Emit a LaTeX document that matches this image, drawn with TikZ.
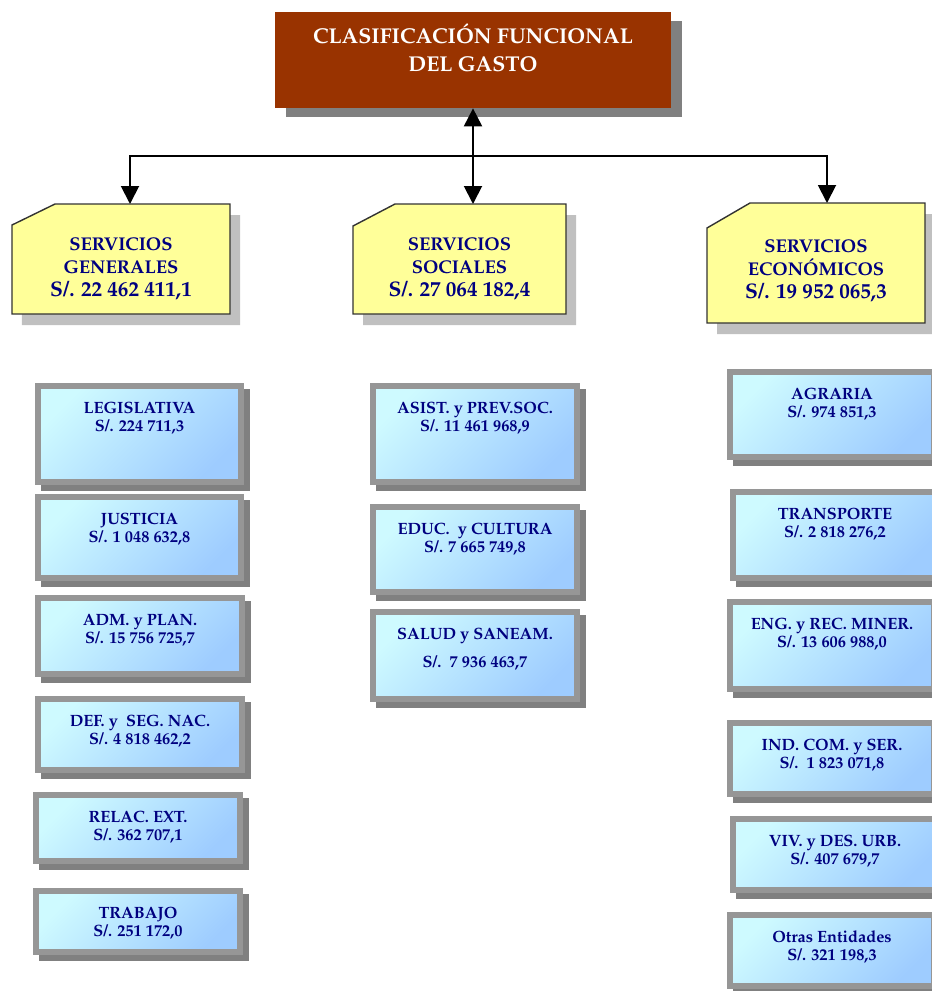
\documentclass[tikz,border=0pt]{standalone}
\usepackage[T1]{fontenc}
\usepackage{mathpazo}
\usetikzlibrary{positioning,shadows,arrows.meta}
\definecolor{ladrillo}{RGB}{153,51,0}
\definecolor{amarillo}{RGB}{255,255,153}
\definecolor{azultexto}{RGB}{0,0,128}
\definecolor{celeste}{RGB}{206,250,255}
\definecolor{azulclaro}{RGB}{158,204,255}
\definecolor{marco}{RGB}{150,150,150}
\definecolor{sombra}{RGB}{128,128,128}
\definecolor{sombraclara}{RGB}{192,192,192}
\tikzset{
  titulo/.style={fill=ladrillo, minimum width=7.92cm, minimum height=1.92cm, inner sep=0pt,
    drop shadow={shadow xshift=2.2mm, shadow yshift=-1.8mm, fill=sombra, opacity=1}},
  titulotxt/.style={text=white, font=\fontsize{12.2}{15.5}\selectfont\bfseries, align=center, inner sep=0pt},
  sector/.style={inner sep=0pt, outer sep=0pt},
  sectorborde/.style={draw=black!80, line width=.8pt, fill=amarillo,
    drop shadow={shadow xshift=2mm, shadow yshift=-2.2mm, fill=sombraclara, opacity=1}},
  sectortxt/.style={text=azultexto, font=\fontsize{10.5}{13}\selectfont\bfseries, align=center, inner sep=0pt},
  rubro/.style={draw=marco, line width=1.2mm, top color=celeste, bottom color=azulclaro, shading angle=45,
    minimum width=4.06cm, inner sep=0pt,
    drop shadow={shadow xshift=1.2mm, shadow yshift=-1.2mm, fill=sombra, draw=sombra, opacity=1}},
  rubrotxt/.style={text=azultexto, font=\fontsize{9.3}{10.2}\selectfont\bfseries, align=center, inner sep=0pt},
  conector/.style={line width=1.1pt},
}
\begin{document}
\begin{tikzpicture}[x=0.2mm, y=-0.2mm, >={Triangle[length=3.6mm, width=3.6mm]}]
\useasboundingbox (0,0) rectangle (932,991);
% encabezado
\node[titulo] (gasto) at (473,60) {};
\node[titulotxt, below=2.4mm of gasto.north] (gasto-t) {CLASIFICACIÓN FUNCIONAL\\DEL GASTO};
% sectores
\node[sector, minimum width=4.36cm, minimum height=2.2cm] (generales) at (121,259) {};
\draw[sectorborde] ([yshift=-4.2mm]generales.north west) -- ([xshift=8.6mm]generales.north west)
  -- (generales.north east) -- (generales.south east) -- (generales.south west) -- cycle;
\node[sectortxt, below=6.7mm of generales.north] (generales-t) {SERVICIOS\\GENERALES\\{\large S/. 22 462 411,1}};
\node[sector, minimum width=4.26cm, minimum height=2.2cm] (sociales) at (459.5,259) {};
\draw[sectorborde] ([yshift=-4.4mm]sociales.north west) -- ([xshift=8.4mm]sociales.north west)
  -- (sociales.north east) -- (sociales.south east) -- (sociales.south west) -- cycle;
\node[sectortxt, below=6.7mm of sociales.north] (sociales-t) {SERVICIOS\\SOCIALES\\{\large S/. 27 064 182,4}};
\node[sector, minimum width=4.36cm, minimum height=2.4cm] (economicos) at (816,263) {};
\draw[sectorborde] ([yshift=-5mm]economicos.north west) -- ([xshift=8.6mm]economicos.north west)
  -- (economicos.north east) -- (economicos.south east) -- (economicos.south west) -- cycle;
\node[sectortxt, below=7.3mm of economicos.north] (economicos-t) {SERVICIOS\\ECONÓMICOS\\{\large S/. 19 952 065,3}};
\coordinate (cruce) at (473,156);
\draw[conector,<->] (gasto.south) -- (gasto.south |- sociales.north);
\draw[conector,->] (cruce) -| ([xshift=1.8mm]generales.north);
\draw[conector,->] (cruce) -| ([xshift=2.2mm]economicos.north);
% servicios generales
\node[rubro, minimum height=1.92cm] (legislativa) at (139.5,434) {};
\node[rubrotxt, below=3.7mm of legislativa.north] (legislativa-t) {LEGISLATIVA\\S/. 224 711,3};
\node[rubro, minimum height=1.62cm] (justicia) at (139.5,537.5) {};
\node[rubrotxt, below=3.7mm of justicia.north] (justicia-t) {JUSTICIA\\S/. 1 048 632,8};
\node[rubro, minimum height=1.52cm] (administracion) at (140,636) {};
\node[rubrotxt, below=3.7mm of administracion.north] (administracion-t) {ADM. y PLAN.\\S/. 15 756 725,7};
\node[rubro, minimum height=1.42cm] (defensa) at (140,734.5) {};
\node[rubrotxt, below=3.7mm of defensa.north] (defensa-t) {DEF. y\ \ SEG. NAC.\\S/. 4 818 462,2};
\node[rubro, minimum height=1.32cm] (relaciones) at (138,828) {};
\node[rubrotxt, below=3.7mm of relaciones.north] (relaciones-t) {RELAC. EXT.\\S/. 362 707,1};
\node[rubro, minimum height=1.22cm] (trabajo) at (138,921.5) {};
\node[rubrotxt, below=3.7mm of trabajo.north] (trabajo-t) {TRABAJO\\S/. 251 172,0};
% servicios sociales
\node[rubro, minimum width=4.08cm, minimum height=1.92cm] (asistencia) at (475,434) {};
\node[rubrotxt, below=3.7mm of asistencia.north] (asistencia-t) {ASIST. y PREV.SOC.\\S/. 11 461 968,9};
\node[rubro, minimum width=4.08cm, minimum height=1.7cm] (educacion) at (475,549.5) {};
\node[rubrotxt, below=3.7mm of educacion.north] (educacion-t) {EDUC.\ \ y CULTURA\\S/. 7 665 749,8};
\node[rubro, minimum width=4.08cm, minimum height=1.74cm] (salud) at (475,655.5) {};
\node[rubrotxt, below=3.7mm of salud.north] (salud-t) {SALUD y SANEAM.\\[2mm]S/.\ \ 7 936 463,7};
% servicios economicos
\node[rubro, minimum width=4.08cm, minimum height=1.7cm] (agraria) at (832,414.5) {};
\node[rubrotxt, below=3.7mm of agraria.north] (agraria-t) {AGRARIA\\S/. 974 851,3};
\node[rubro, minimum width=4.08cm, minimum height=1.72cm] (transporte) at (835,535) {};
\node[rubrotxt, below=3.7mm of transporte.north] (transporte-t) {TRANSPORTE\\S/. 2 818 276,2};
\node[rubro, minimum width=4.08cm, minimum height=1.74cm] (energia) at (832,645.5) {};
\node[rubrotxt, below=3.7mm of energia.north] (energia-t) {ENG. y REC. MINER.\\S/. 13 606 988,0};
\node[rubro, minimum width=4.08cm, minimum height=1.42cm] (industria) at (832,758.5) {};
\node[rubrotxt, below=3.7mm of industria.north] (industria-t) {IND. COM. y SER.\\S/.\ \ 1 823 071,8};
\node[rubro, minimum width=4.08cm, minimum height=1.42cm] (vivienda) at (835,854.5) {};
\node[rubrotxt, below=3.7mm of vivienda.north] (vivienda-t) {VIV. y DES. URB.\\S/. 407 679,7};
\node[rubro, minimum width=4.08cm, minimum height=1.42cm] (otras) at (832,950.5) {};
\node[rubrotxt, below=3.7mm of otras.north] (otras-t) {Otras Entidades\\S/. 321 198,3};
\end{tikzpicture}
\end{document}
